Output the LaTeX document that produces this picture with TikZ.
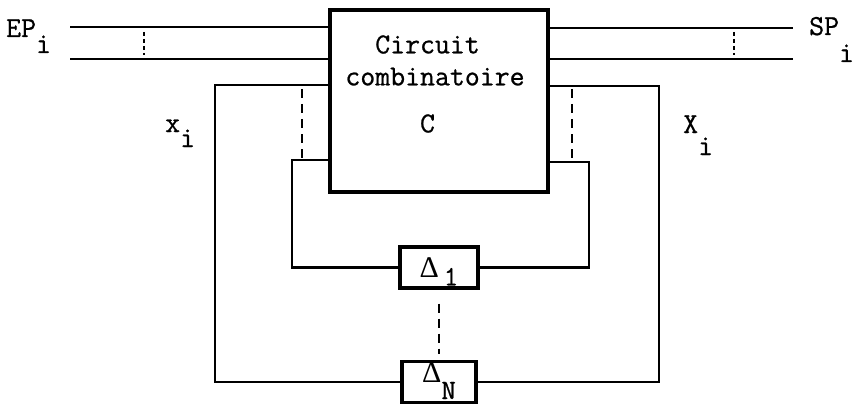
\documentclass[tikz,border=0pt]{standalone}
\usepackage{fontspec}
\setmonofont{Latin Modern Mono}[FakeBold=0.8]
\newfontfamily\grk{Liberation Serif}
\usetikzlibrary{positioning}

\begin{document}
\begin{tikzpicture}[
  x=1pt, y=-1pt,
  font=\ttfamily\fontsize{29}{32}\selectfont,
  blk/.style={draw, line width=3.2pt, inner sep=0pt},
  wire/.style={line width=2.8pt},
  tick/.style={line width=2.2pt, dash pattern=on 4pt off 3pt},
  lnk/.style={line width=2.8pt, dash pattern=on 9pt off 6pt},
  lbl/.style={inner sep=0pt, anchor=base west}
]
\useasboundingbox (0,0) rectangle (855,404);

% combinational block and the delay elements
\node[blk, minimum width=218pt, minimum height=182pt] (C) at (439,101) {};
\node[inner sep=0pt, align=left] (Clbl) at (435,84)
  {\ \ Circuit\\combinatoire\\[15pt]\ \ \ \ \ C};
\node[blk, minimum width=78pt, minimum height=41pt] (d1) at (439,267.5)
  {{\grk\fontsize{30}{30}\selectfont Δ}\,\smash{\lower8pt\hbox{\fontsize{28}{28}\selectfont 1}}};
\node[blk, minimum width=74pt, minimum height=41pt] (dN) at (439,382)
  {\smash{{\grk\fontsize{30}{30}\selectfont Δ}\lower17pt\hbox{\fontsize{28}{28}\selectfont N}}};

% labels
\node[lbl] (ep) at (6,37) {EP\lower16pt\hbox{i}};
\node[lbl] (sp) at (809,35) {SP\lower27pt\hbox{i}};
\node[lbl] (xs) at (165,132) {x\lower15pt\hbox{i}};
\node[lbl] (Xs) at (683,133) {X\lower22pt\hbox{i}};

% primary inputs and outputs
\coordinate (ep1) at (70,27);
\coordinate (ep2) at (70,59);
\coordinate (sp1) at (793,28);
\coordinate (sp2) at (793,59);
\draw[wire] (ep1) -- (ep1 -| C.west);
\draw[wire] (ep2) -- (ep2 -| C.west);
\draw[wire] (C.east |- sp1) -- (sp1);
\draw[wire] (C.east |- sp2) -- (sp2);
\draw[tick] (144,32) -- (144,55);
\draw[tick] (734,32) -- (734,55);

% feedback loops
\coordinate (xo) at (215,85);
\coordinate (Xo) at (659,86);
\coordinate (xi) at (292,160);
\coordinate (Xi) at (589,162);
\draw[wire] (xo -| C.west) -- (xo) |- (dN.west);
\draw[wire] (Xo -| C.east) -- (Xo) |- (dN.east);
\draw[wire] (xi -| C.west) -- (xi) |- (d1.west);
\draw[wire] (Xi -| C.east) -- (Xi) |- (d1.east);
\draw[lnk] (302,89) -- (302,160);
\draw[lnk] (572,89) -- (572,162);
\draw[lnk, shorten <=14pt, shorten >=6pt] (d1.south) -- (dN.north);
\end{tikzpicture}
\end{document}
